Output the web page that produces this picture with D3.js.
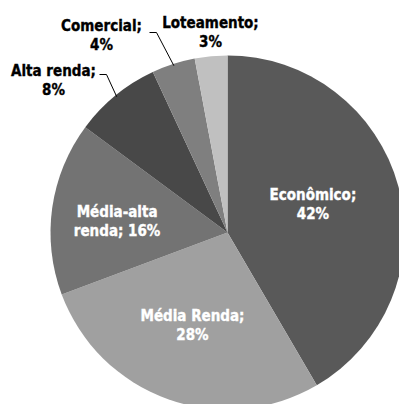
<!DOCTYPE html>
<html>
<head>
<meta charset="utf-8">
<script src="https://cdn.jsdelivr.net/npm/d3@7/dist/d3.min.js"></script>
<style>
  html, body { margin: 0; padding: 0; background: #fff; }
  svg { display: block; }
  text { font-family: "DejaVu Sans Condensed", "DejaVu Sans", Verdana, sans-serif; font-weight: bold; font-size: 15px; stroke-width: 0.35px; }
</style>
</head>
<body>
<svg id="chart" width="399" height="404"></svg>
<script>
// Segment shares (%), in drawing order clockwise from 12 o'clock
const categories = ["Econômico", "Média Renda", "Média-alta renda", "Alta renda", "Comercial", "Loteamento"];
const shares = [42, 28, 16, 8, 4, 3];
const labelLines = [
  ["Econômico;", "42%"],
  ["Média Renda;", "28%"],
  ["Média-alta", "renda; 16%"],
  ["Alta renda;", "8%"],
  ["Comercial;", "4%"],
  ["Loteamento;", "3%"]
];
const fills = ["#595959", "#a0a0a0", "#737373", "#484848", "#7f7f7f", "#c0c0c0"];

const svg = d3.select("#chart");
const cx = 227.5, cy = 232.5, r = 177;
const lineGap = 19;
const g = svg.append("g").attr("transform", `translate(${cx},${cy})`);

const pie = d3.pie().sort(null).value(d => d)(shares);
const arc = d3.arc().innerRadius(0).outerRadius(r);

g.selectAll("path.slice")
  .data(pie)
  .join("path")
  .attr("class", "slice")
  .attr("d", arc)
  .attr("fill", (d, i) => fills[i]);

const midAngle = d => (d.startAngle + d.endAngle) / 2;
const polar = (a, rad) => [Math.sin(a) * rad, -Math.cos(a) * rad];

// Inside labels: along each slice's mid-angle at a fraction of the radius
const inside = [
  { i: 0, k: 0.50, dx: 0, dy: 0 },
  { i: 1, k: 0.59, dx: 0, dy: 0 },
  { i: 2, k: 0.63, dx: 0, dy: 10 }
];
inside.forEach(({ i, k, dx, dy }) => {
  const [x, y] = polar(midAngle(pie[i]), r * k);
  const t = g.append("text").attr("text-anchor", "middle")
    .attr("fill", "#fff").attr("stroke", "#fff");
  labelLines[i].forEach((s, j) => {
    t.append("tspan")
      .attr("x", x + dx)
      .attr("y", y + dy + (j - 0.5) * lineGap)
      .text(s);
  });
});

// Outside labels (first-line baseline given) with elbow leader lines
const outside = [
  { i: 3, tx: -174, ty: -157, lx: -128, ly: -158 },
  { i: 4, tx: -126, ty: -202, lx: -78, ly: -200 },
  { i: 5, tx: -17, ty: -205, lx: null, ly: null }
];
outside.forEach(({ i, tx, ty, lx, ly }) => {
  const t = g.append("text").attr("text-anchor", "middle")
    .attr("fill", "#000").attr("stroke", "#000");
  labelLines[i].forEach((s, j) => {
    t.append("tspan").attr("x", tx).attr("y", ty + j * lineGap).text(s);
  });
  if (lx !== null) {
    const [ex, ey] = polar(midAngle(pie[i]), r * 0.99);
    g.append("path")
      .attr("d", `M${lx},${ly}H${lx + 7}L${ex},${ey}`)
      .attr("fill", "none")
      .attr("stroke", "#000")
      .attr("stroke-width", 1);
  }
});
</script>
</body>
</html>
